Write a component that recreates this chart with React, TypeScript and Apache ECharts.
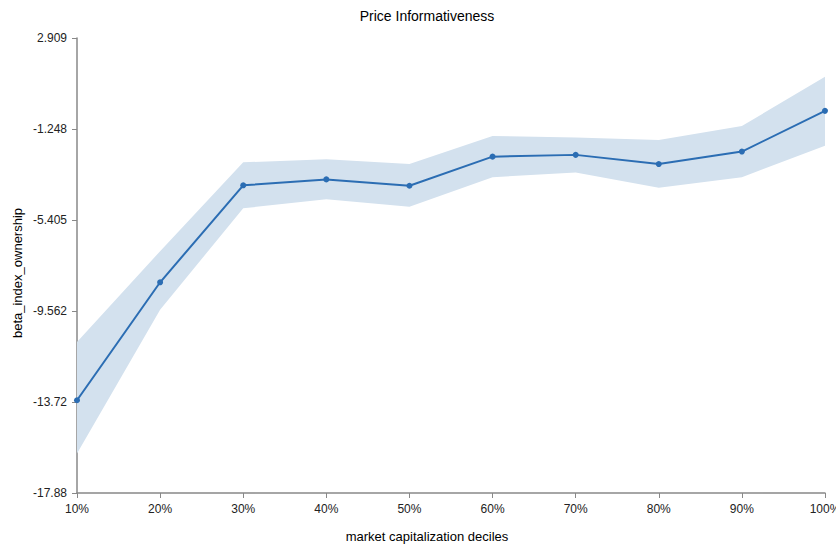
import React, { useEffect, useRef } from "react";
import * as echarts from "echarts";

const categories = ["10%", "20%", "30%", "40%", "50%", "60%", "70%", "80%", "90%", "100%"];
const meanValues = [-13.64, -8.25, -3.82, -3.55, -3.84, -2.51, -2.43, -2.85, -2.28, -0.42];
const upperValues = [-10.98, -6.83, -2.77, -2.63, -2.85, -1.57, -1.64, -1.75, -1.11, 1.14];
const lowerValues = [-16.07, -9.5, -4.87, -4.46, -4.8, -3.45, -3.23, -3.93, -3.45, -2.01];
const yTicks = [-17.876, -13.719, -9.562, -5.405, -1.248, 2.909];

const LINE_COLOR = "#2b6db3";
const BAND_COLOR = "#d3e1ee";
const FONT = "'Liberation Sans', Arial, Helvetica, sans-serif";

export default function App() {
  const ref = useRef<HTMLDivElement>(null);
  useEffect(() => {
    if (!ref.current) return;
    const chart = echarts.init(ref.current, null, { renderer: "svg" });
    const bandDiff = upperValues.map((u, i) => u - lowerValues[i]);
    chart.setOption({
      animation: false,
      textStyle: { fontFamily: FONT },
      grid: {
        left: 77,
        right: 11,
        top: 38,
        bottom: 53,
        containLabel: false,
        outerBoundsMode: "none",
      },
      xAxis: {
        type: "category",
        data: categories,
        boundaryGap: false,
        axisLine: { onZero: false, lineStyle: { color: "#888", width: 1.5 } },
        axisTick: { alignWithLabel: true, length: 5, lineStyle: { color: "#888" } },
        axisLabel: { color: "#222", fontSize: 12, margin: 10, fontFamily: FONT },
        splitLine: { show: false },
      },
      yAxis: {
        type: "value",
        min: yTicks[0],
        max: yTicks[yTicks.length - 1],
        axisLine: { show: true, onZero: false, lineStyle: { color: "#888", width: 1.5 } },
        axisTick: { show: true, length: 5, lineStyle: { color: "#888" }, customValues: yTicks },
        axisLabel: {
          color: "#222",
          fontSize: 12,
          margin: 10,
          fontFamily: FONT,
          customValues: yTicks,
          formatter: (v: number) => String(Number(v.toPrecision(4))),
        },
        splitLine: { show: false },
      },
      graphic: [
        {
          type: "text",
          x: 427,
          y: 16,
          style: {
            text: "Price Informativeness",
            fontSize: 14,
            fontFamily: FONT,
            fill: "#000",
            textAlign: "center",
            textVerticalAlign: "middle",
          },
        },
        {
          type: "text",
          x: 427,
          y: 536,
          style: {
            text: "market capitalization deciles",
            fontSize: 13,
            fontFamily: FONT,
            fill: "#000",
            textAlign: "center",
            textVerticalAlign: "middle",
          },
        },
        {
          type: "text",
          x: 17,
          y: 273,
          rotation: Math.PI / 2,
          style: {
            text: "beta_index_ownership",
            fontSize: 13,
            fontFamily: FONT,
            fill: "#000",
            textAlign: "center",
            textVerticalAlign: "middle",
          },
        },
      ],
      series: [
        {
          type: "line",
          data: lowerValues,
          stack: "band",
          stackStrategy: "all",
          symbol: "none",
          lineStyle: { opacity: 0 },
          silent: true,
          z: 1,
        },
        {
          type: "line",
          data: bandDiff,
          stack: "band",
          stackStrategy: "all",
          symbol: "none",
          lineStyle: { opacity: 0 },
          areaStyle: { color: BAND_COLOR, opacity: 1 },
          silent: true,
          z: 1,
        },
        {
          type: "line",
          data: meanValues,
          symbol: "circle",
          symbolSize: 6,
          showSymbol: true,
          lineStyle: { color: LINE_COLOR, width: 2 },
          itemStyle: { color: LINE_COLOR },
          z: 3,
        },
      ],
    });
    return () => chart.dispose();
  }, []);
  return (
    <div
      ref={ref}
      style={{ position: "absolute", left: 0, top: 0, width: 836, height: 546, overflow: "hidden" }}
    />
  );
}
